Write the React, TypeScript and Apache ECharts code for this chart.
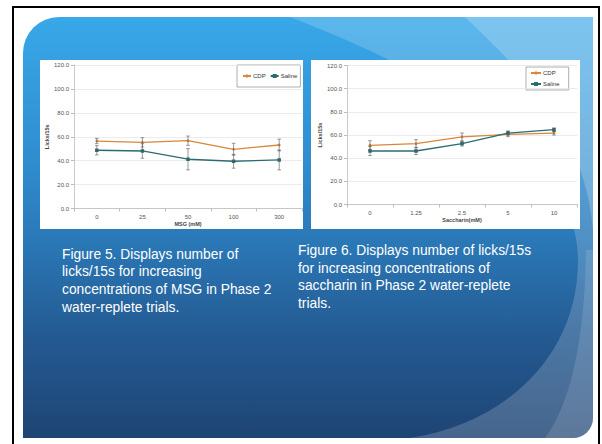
import React, { useEffect, useRef } from "react";
import * as echarts from "echarts";

// Figure 5: MSG concentrations
const msgCategories = ["0", "25", "50", "100", "300"];
const msgCdp = [56.4, 55.3, 56.7, 49.5, 53.1];
const msgSaline = [48.7, 48.1, 41.2, 39.5, 40.6];
const msgCdpErr = [2.2, 3.9, 3.9, 5.0, 4.9];
const msgSalineErr = [3.9, 6.1, 8.9, 5.8, 8.3];

// Figure 6: saccharin concentrations
const sacCategories = ["0", "1.25", "2.5", "5", "10"];
const sacCdp = [51.1, 52.5, 58.3, 60.6, 61.7];
const sacSaline = [46.2, 46.2, 52.5, 61.7, 64.6];
const sacCdpErr = [4.0, 3.5, 3.4, 2.0, 1.7];
const sacSalineErr = [4.0, 3.1, 2.0, 1.8, 1.5];

const seriesNames = ["CDP", "Saline"];
const yTicks = { min: 0, max: 120, interval: 20 };

const captionFig5 = [
  "Figure 5. Displays number of",
  "licks/15s for increasing",
  "concentrations of MSG in Phase 2",
  "water-replete trials.",
];
const captionFig6 = [
  "Figure 6. Displays number of licks/15s",
  "for increasing concentrations of",
  "saccharin in Phase 2 water-replete",
  "trials.",
];

const CDP_COLOR = "#d8873c";
const SALINE_COLOR = "#2a6c72";
const CHART_FONT = "'Liberation Sans', Arial, sans-serif";

// Decorative slide shapes
const lightWedgePath =
  "M290,17 C400,60 578,140 578,260 C578,360 500,425 410,438 L573,438 Q593,438 593,418 L593,17 Z";
const topRightPath = "M465,17 C520,70 585,130 593,230 L593,17 Z";
const lowerStripPath =
  "M586,250 C585,340 570,405 545,438 L573,438 Q593,438 593,418 L593,250 Z";

let shapesRegistered = false;
function registerShapes() {
  if (shapesRegistered) return;
  echarts.graphic.registerShape("lightWedge", echarts.graphic.extendPath(lightWedgePath, {}));
  echarts.graphic.registerShape("topRight", echarts.graphic.extendPath(topRightPath, {}));
  echarts.graphic.registerShape("lowerStrip", echarts.graphic.extendPath(lowerStripPath, {}));
  shapesRegistered = true;
}

function errorSeries(name: string, values: number[], errs: number[], gridIndex: number) {
  return {
    type: "custom",
    name: name + " error",
    xAxisIndex: gridIndex,
    yAxisIndex: gridIndex,
    z: 7,
    silent: true,
    encode: { x: 0, y: 1 },
    data: values.map((v, i) => [i, v, errs[i]]),
    renderItem: (params: any, api: any) => {
      const idx = api.value(0);
      const v = api.value(1);
      const e = api.value(2);
      const hi = api.coord([idx, v + e]);
      const lo = api.coord([idx, v - e]);
      const w = 1.8;
      const style = { stroke: "#555", lineWidth: 0.6 };
      return {
        type: "group",
        children: [
          { type: "line", shape: { x1: hi[0], y1: hi[1], x2: lo[0], y2: lo[1] }, style },
          { type: "line", shape: { x1: hi[0] - w, y1: hi[1], x2: hi[0] + w, y2: hi[1] }, style },
          { type: "line", shape: { x1: lo[0] - w, y1: lo[1], x2: lo[0] + w, y2: lo[1] }, style },
        ],
      };
    },
  };
}

function lineSeries(name: string, values: number[], color: string, gridIndex: number, symbol: string) {
  return {
    type: "line",
    name,
    xAxisIndex: gridIndex,
    yAxisIndex: gridIndex,
    z: 6,
    data: values,
    symbol,
    symbolSize: 3.5,
    lineStyle: { color, width: 1.3 },
    itemStyle: { color },
  };
}

function xAxisFor(categories: string[], gridIndex: number, name: string) {
  return {
    type: "category",
    gridIndex,
    data: categories,
    boundaryGap: true,
    name,
    nameLocation: "middle",
    nameGap: 12.5,
    nameTextStyle: { fontSize: 5.5, fontWeight: "bold", color: "#444", fontFamily: CHART_FONT },
    z: 5,
    axisLine: { lineStyle: { color: "#bdbdbd", width: 0.8 } },
    axisTick: { show: true, length: 3, lineStyle: { color: "#bdbdbd" } },
    axisLabel: { fontSize: 6, color: "#555", margin: 5, fontFamily: CHART_FONT },
    splitLine: { show: false },
  };
}

function yAxisFor(gridIndex: number) {
  return {
    type: "value",
    gridIndex,
    min: yTicks.min,
    max: yTicks.max,
    interval: yTicks.interval,
    name: "Licks/15s",
    nameLocation: "middle",
    nameRotate: 90,
    nameGap: 24,
    nameTextStyle: { fontSize: 5.5, fontWeight: "bold", color: "#444", fontFamily: CHART_FONT },
    z: 5,
    axisLine: { show: true, lineStyle: { color: "#bdbdbd", width: 0.8 } },
    axisTick: { show: true, length: 3, lineStyle: { color: "#bdbdbd" } },
    axisLabel: {
      fontSize: 6,
      color: "#555",
      margin: 5,
      fontFamily: CHART_FONT,
      formatter: (v: number) => v.toFixed(1),
    },
    splitLine: { show: true, lineStyle: { color: "#e6e6e6", width: 0.8 } },
  };
}

export default function App() {
  const ref = useRef<HTMLDivElement>(null);

  useEffect(() => {
    if (!ref.current) return;
    registerShapes();
    const chart = echarts.init(ref.current, undefined, { renderer: "svg" });

    const captionStyle = {
      fill: "#ffffff",
      fontSize: 13.8,
      fontFamily: "'Liberation Sans', Arial, sans-serif",
      lineHeight: 17.6,
      verticalAlign: "top",
      align: "left",
    };

    const legendText = { fontSize: 6, color: "#333", fontFamily: CHART_FONT, padding: [0, 0, 0, -3] };

    chart.setOption({
      animation: false,
      backgroundColor: "#ffffff",
      graphic: [
        // frame
        {
          type: "rect",
          z: -20,
          shape: { x: 13, y: 7, width: 586, height: 450 },
          style: { fill: "#ffffff", stroke: "#000000", lineWidth: 2 },
        },
        // slide body
        {
          type: "rect",
          z: -19,
          shape: { x: 23, y: 17, width: 570, height: 421, r: [36, 0, 20, 0] },
          style: {
            fill: new echarts.graphic.LinearGradient(0, 0, 0, 1, [
              { offset: 0, color: "#38a8e8" },
              { offset: 0.35, color: "#2f8ccf" },
              { offset: 0.55, color: "#2a76b4" },
              { offset: 0.75, color: "#245b93" },
              { offset: 1, color: "#1e4474" },
            ]),
          },
        },
        { type: "lightWedge", z: -18, x: 0, y: 0, style: { fill: "rgba(255,255,255,0.18)" } },
        { type: "topRight", z: -17, x: 0, y: 0, style: { fill: "rgba(255,255,255,0.2)" } },
        { type: "lowerStrip", z: -17, x: 0, y: 0, style: { fill: "rgba(255,255,255,0.12)" } },
        // chart panels
        { type: "rect", z: -16, shape: { x: 40, y: 60, width: 263, height: 169 }, style: { fill: "#ffffff" } },
        { type: "rect", z: -16, shape: { x: 311, y: 60, width: 269, height: 169 }, style: { fill: "#ffffff" } },
        // captions
        { type: "text", z: -15, x: 62, y: 245.6, style: { ...captionStyle, text: captionFig5.join("\n") } },
        { type: "text", z: -15, x: 298, y: 241.8, style: { ...captionStyle, text: captionFig6.join("\n") } },
      ],
      legend: [
        {
          data: seriesNames,
          orient: "horizontal",
          left: 237,
          top: 65,
          padding: [8, 3, 8, 5],
          itemGap: 4,
          itemWidth: 8,
          itemHeight: 5,
          borderColor: "#999",
          borderWidth: 0.8,
          textStyle: legendText,
        },
        {
          data: seriesNames,
          orient: "vertical",
          left: 526,
          top: 67,
          padding: [3, 9, 3, 4],
          itemGap: 5,
          itemWidth: 10,
          itemHeight: 5,
          borderColor: "#999",
          borderWidth: 0.8,
          textStyle: legendText,
        },
      ],
      grid: [
        { left: 74, top: 65, width: 228, height: 143.5 },
        { left: 347, top: 65.5, width: 230, height: 139 },
      ],
      xAxis: [xAxisFor(msgCategories, 0, "MSG (mM)"), xAxisFor(sacCategories, 1, "Saccharin(mM)")],
      yAxis: [yAxisFor(0), yAxisFor(1)],
      series: [
        lineSeries(seriesNames[0], msgCdp, CDP_COLOR, 0, "diamond"),
        lineSeries(seriesNames[1], msgSaline, SALINE_COLOR, 0, "rect"),
        errorSeries(seriesNames[0], msgCdp, msgCdpErr, 0),
        errorSeries(seriesNames[1], msgSaline, msgSalineErr, 0),
        lineSeries(seriesNames[0], sacCdp, CDP_COLOR, 1, "diamond"),
        lineSeries(seriesNames[1], sacSaline, SALINE_COLOR, 1, "rect"),
        errorSeries(seriesNames[0], sacCdp, sacCdpErr, 1),
        errorSeries(seriesNames[1], sacSaline, sacSalineErr, 1),
      ],
    });

    return () => chart.dispose();
  }, []);

  return (
    <div
      ref={ref}
      style={{ position: "fixed", left: 0, top: 0, width: 602, height: 444 }}
    />
  );
}
